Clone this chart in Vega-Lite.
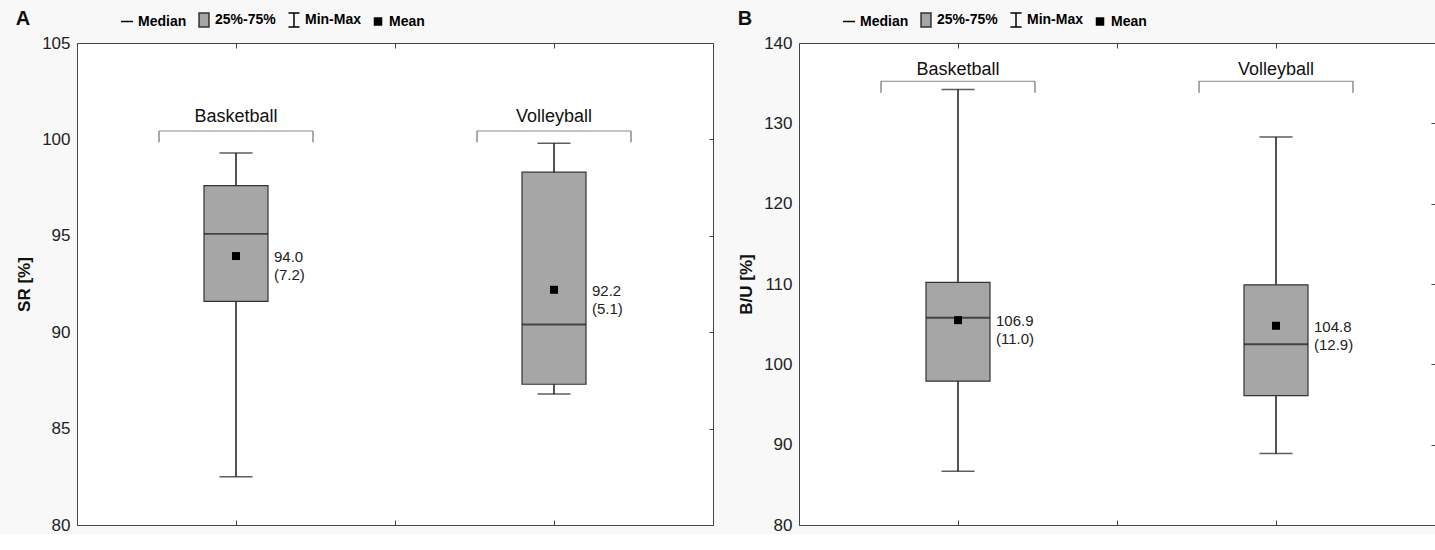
{
"$schema": "https://vega.github.io/schema/vega-lite/v6.json",
"background": "#f8f8f8",
"padding": {"left": 15, "top": 8, "right": 0, "bottom": 0},
"spacing": 23,
"config": {
  "font": "Liberation Sans",
  "view": {"fill": "#ffffff", "stroke": "#444444", "strokeWidth": 1},
  "axis": {"grid": false},
  "legend": {"symbolOpacity": 1}
},
"datasets": {
  "a": [
    {"sport": "Basketball", "min": 82.5, "q1": 91.6, "median": 95.1, "q3": 97.6, "max": 99.3, "mean": 93.95, "label": "94.0\n(7.2)"},
    {"sport": "Volleyball", "min": 86.8, "q1": 87.3, "median": 90.4, "q3": 98.3, "max": 99.8, "mean": 92.2, "label": "92.2\n(5.1)"}
  ],
  "b": [
    {"sport": "Basketball", "min": 86.7, "q1": 97.9, "median": 105.8, "q3": 110.2, "max": 134.2, "mean": 105.5, "label": "106.9\n(11.0)"},
    {"sport": "Volleyball", "min": 88.9, "q1": 96.1, "median": 102.5, "q3": 109.9, "max": 128.3, "mean": 104.8, "label": "104.8\n(12.9)"}
  ],
  "legend": [
    {"item": "Median"}, {"item": "25%-75%"}, {"item": "Min-Max"}, {"item": "Mean"}
  ]
},
"hconcat": [
  {
    "width": 636, "height": 482,
    "view": {"fill": "#ffffff", "stroke": "#444444", "strokeWidth": 1},
    "data": {"name": "a"},
    "title": {"text": "A", "anchor": "start", "frame": "bounds", "fontSize": 20, "fontWeight": "bold", "color": "#111111", "offset": -17},
    "resolve": {"axis": {"x": "independent", "y": "independent"}},
    "layer": [
      {"mark": {"type": "rule", "color": "#1a1a1a", "strokeWidth": 1.5},
       "encoding": {
         "x": {"field": "sport", "type": "nominal", "scale": {"type": "band", "domain": ["Basketball", "Volleyball"], "paddingInner": 0, "paddingOuter": 0},
               "axis": {"orient": "bottom", "labels": false, "domain": false, "tickSize": -5, "tickColor": "#444444", "title": null, "bandPosition": 0.5}},
         "y": {"field": "min", "type": "quantitative", "scale": {"domain": [80, 105], "nice": false, "zero": false},
               "axis": {"orient": "left", "values": [80, 85, 90, 95, 100, 105], "ticks": false, "domain": false, "labelFontSize": 17, "labelPadding": 7, "labelColor": "#222222", "title": "SR [%]", "titleFontSize": 17, "titleFontWeight": "bold", "titlePadding": 8, "titleColor": "#111111"}},
         "y2": {"field": "max"}}},
      {"mark": {"type": "tick", "color": "#1a1a1a", "size": 33, "thickness": 1.5},
       "encoding": {
         "x": {"field": "sport", "type": "nominal", "axis": null},
         "y": {"field": "min", "type": "quantitative", "axis": null}}},
      {"mark": {"type": "tick", "color": "#1a1a1a", "size": 33, "thickness": 1.5},
       "encoding": {
         "x": {"field": "sport", "type": "nominal", "axis": {"orient": "top", "labels": false, "domain": false, "tickSize": -5, "tickColor": "#444444", "title": null, "bandPosition": 0}},
         "y": {"field": "max", "type": "quantitative", "axis": null}}},
      {"mark": {"type": "bar", "width": 64, "fill": "#a6a6a6", "stroke": "#333333", "strokeWidth": 1.2},
       "encoding": {
         "x": {"field": "sport", "type": "nominal", "axis": {"orient": "top", "labels": false, "domain": false, "tickSize": -5, "tickColor": "#444444", "title": null, "bandPosition": 0.5}},
         "y": {"field": "q1", "type": "quantitative", "axis": {"orient": "right", "values": [80, 85, 90, 95, 100, 105], "labels": false, "domain": false, "tickSize": -4, "tickColor": "#444444", "title": null}},
         "y2": {"field": "q3"}}},
      {"mark": {"type": "tick", "color": "#1a1a1a", "size": 64, "thickness": 1.8},
       "encoding": {
         "x": {"field": "sport", "type": "nominal", "axis": {"orient": "bottom", "labels": false, "domain": false, "tickSize": -5, "tickColor": "#444444", "title": null, "bandPosition": 0}},
         "y": {"field": "median", "type": "quantitative", "axis": null}}},
      {"mark": {"type": "point", "shape": "square", "size": 64, "filled": true, "color": "#000000", "opacity": 1},
       "encoding": {
         "x": {"field": "sport", "type": "nominal", "axis": null},
         "y": {"field": "mean", "type": "quantitative", "axis": null}}},
      {"mark": {"type": "text", "align": "left", "baseline": "middle", "dx": 38, "dy": 1, "fontSize": 15, "lineHeight": 18, "lineBreak": "\n", "color": "#222222"},
       "encoding": {
         "x": {"field": "sport", "type": "nominal", "axis": null},
         "y": {"field": "mean", "type": "quantitative", "axis": null},
         "text": {"field": "label"}}},
      {"mark": {"type": "tick", "color": "#555555", "size": 154, "thickness": 1},
       "encoding": {
         "x": {"field": "sport", "type": "nominal", "axis": null},
         "y": {"datum": 100.43, "type": "quantitative", "axis": null}}},
      {"mark": {"type": "rule", "color": "#555555", "strokeWidth": 1, "xOffset": -77},
       "encoding": {
         "x": {"field": "sport", "type": "nominal", "axis": null},
         "y": {"datum": 100.43, "type": "quantitative", "axis": null},
         "y2": {"datum": 99.85}}},
      {"mark": {"type": "rule", "color": "#555555", "strokeWidth": 1, "xOffset": 77},
       "encoding": {
         "x": {"field": "sport", "type": "nominal", "axis": null},
         "y": {"datum": 100.43, "type": "quantitative", "axis": null},
         "y2": {"datum": 99.85}}},
      {"mark": {"type": "text", "fontSize": 18, "baseline": "alphabetic", "align": "center", "color": "#111111"},
       "encoding": {
         "x": {"field": "sport", "type": "nominal", "axis": null},
         "y": {"datum": 100.9, "type": "quantitative", "axis": null},
         "text": {"field": "sport"}}},
      {"data": {"name": "legend"},
       "mark": {"type": "point", "opacity": 0},
       "encoding": {
         "shape": {"field": "item", "type": "nominal",
                   "scale": {"domain": ["Median", "25%-75%", "Min-Max", "Mean"], "range": ["M-0.85,0H0.85", "M-0.71,-1H0.71V1H-0.71Z", "M-0.79,-1H0.79M0,-1V1M-0.79,1H0.79", "M-0.5,-0.5H0.5V0.5H-0.5Z"]},
                   "legend": {"orient": "none", "legendX": 42, "legendY": -31, "direction": "horizontal", "title": null, "labelFont": "Liberation Sans", "labelFontWeight": "bold", "labelFontSize": 14, "labelColor": "#000000", "labelOffset": 3, "columnPadding": 9, "symbolSize": 196, "symbolStrokeWidth": 1.5, "symbolOpacity": 1}},
         "fill": {"field": "item", "type": "nominal",
                  "scale": {"domain": ["Median", "25%-75%", "Min-Max", "Mean"], "range": ["transparent", "#a6a6a6", "transparent", "#000000"]},
                  "legend": {"orient": "none", "legendX": 42, "legendY": -31, "direction": "horizontal", "title": null, "labelFont": "Liberation Sans", "labelFontWeight": "bold", "labelFontSize": 14, "labelColor": "#000000", "labelOffset": 3, "columnPadding": 9, "symbolSize": 196, "symbolStrokeWidth": 1.5, "symbolOpacity": 1}},
         "stroke": {"field": "item", "type": "nominal",
                    "scale": {"domain": ["Median", "25%-75%", "Min-Max", "Mean"], "range": ["#000000", "#333333", "#000000", "#000000"]},
                    "legend": {"orient": "none", "legendX": 42, "legendY": -31, "direction": "horizontal", "title": null, "labelFont": "Liberation Sans", "labelFontWeight": "bold", "labelFontSize": 14, "labelColor": "#000000", "labelOffset": 3, "columnPadding": 9, "symbolSize": 196, "symbolStrokeWidth": 1.5, "symbolOpacity": 1}}}}
    ]
  },
  {
    "width": 636, "height": 482,
    "view": {"fill": "#ffffff", "stroke": "#444444", "strokeWidth": 1},
    "data": {"name": "b"},
    "title": {"text": "B", "anchor": "start", "frame": "bounds", "fontSize": 20, "fontWeight": "bold", "color": "#111111", "offset": -17},
    "resolve": {"axis": {"x": "independent", "y": "independent"}},
    "layer": [
      {"mark": {"type": "rule", "color": "#1a1a1a", "strokeWidth": 1.5},
       "encoding": {
         "x": {"field": "sport", "type": "nominal", "scale": {"type": "band", "domain": ["Basketball", "Volleyball"], "paddingInner": 0, "paddingOuter": 0},
               "axis": {"orient": "bottom", "labels": false, "domain": false, "tickSize": -5, "tickColor": "#444444", "title": null, "bandPosition": 0.5}},
         "y": {"field": "min", "type": "quantitative", "scale": {"domain": [80, 140], "nice": false, "zero": false},
               "axis": {"orient": "left", "values": [80, 90, 100, 110, 120, 130, 140], "ticks": false, "domain": false, "labelFontSize": 17, "labelPadding": 7, "labelColor": "#222222", "title": "B/U [%]", "titleFontSize": 17, "titleFontWeight": "bold", "titlePadding": 8, "titleColor": "#111111"}},
         "y2": {"field": "max"}}},
      {"mark": {"type": "tick", "color": "#1a1a1a", "size": 33, "thickness": 1.5},
       "encoding": {
         "x": {"field": "sport", "type": "nominal", "axis": null},
         "y": {"field": "min", "type": "quantitative", "axis": null}}},
      {"mark": {"type": "tick", "color": "#1a1a1a", "size": 33, "thickness": 1.5},
       "encoding": {
         "x": {"field": "sport", "type": "nominal", "axis": {"orient": "top", "labels": false, "domain": false, "tickSize": -5, "tickColor": "#444444", "title": null, "bandPosition": 0}},
         "y": {"field": "max", "type": "quantitative", "axis": null}}},
      {"mark": {"type": "bar", "width": 64, "fill": "#a6a6a6", "stroke": "#333333", "strokeWidth": 1.2},
       "encoding": {
         "x": {"field": "sport", "type": "nominal", "axis": {"orient": "top", "labels": false, "domain": false, "tickSize": -5, "tickColor": "#444444", "title": null, "bandPosition": 0.5}},
         "y": {"field": "q1", "type": "quantitative", "axis": {"orient": "right", "values": [80, 90, 100, 110, 120, 130, 140], "labels": false, "domain": false, "tickSize": -4, "tickColor": "#444444", "title": null}},
         "y2": {"field": "q3"}}},
      {"mark": {"type": "tick", "color": "#1a1a1a", "size": 64, "thickness": 1.8},
       "encoding": {
         "x": {"field": "sport", "type": "nominal", "axis": {"orient": "bottom", "labels": false, "domain": false, "tickSize": -5, "tickColor": "#444444", "title": null, "bandPosition": 0}},
         "y": {"field": "median", "type": "quantitative", "axis": null}}},
      {"mark": {"type": "point", "shape": "square", "size": 64, "filled": true, "color": "#000000", "opacity": 1},
       "encoding": {
         "x": {"field": "sport", "type": "nominal", "axis": null},
         "y": {"field": "mean", "type": "quantitative", "axis": null}}},
      {"mark": {"type": "text", "align": "left", "baseline": "middle", "dx": 38, "dy": 1, "fontSize": 15, "lineHeight": 18, "lineBreak": "\n", "color": "#222222"},
       "encoding": {
         "x": {"field": "sport", "type": "nominal", "axis": null},
         "y": {"field": "mean", "type": "quantitative", "axis": null},
         "text": {"field": "label"}}},
      {"mark": {"type": "tick", "color": "#555555", "size": 154, "thickness": 1},
       "encoding": {
         "x": {"field": "sport", "type": "nominal", "axis": null},
         "y": {"datum": 135.24, "type": "quantitative", "axis": null}}},
      {"mark": {"type": "rule", "color": "#555555", "strokeWidth": 1, "xOffset": -77},
       "encoding": {
         "x": {"field": "sport", "type": "nominal", "axis": null},
         "y": {"datum": 135.24, "type": "quantitative", "axis": null},
         "y2": {"datum": 133.8}}},
      {"mark": {"type": "rule", "color": "#555555", "strokeWidth": 1, "xOffset": 77},
       "encoding": {
         "x": {"field": "sport", "type": "nominal", "axis": null},
         "y": {"datum": 135.24, "type": "quantitative", "axis": null},
         "y2": {"datum": 133.8}}},
      {"mark": {"type": "text", "fontSize": 18, "baseline": "alphabetic", "align": "center", "color": "#111111"},
       "encoding": {
         "x": {"field": "sport", "type": "nominal", "axis": null},
         "y": {"datum": 136.0, "type": "quantitative", "axis": null},
         "text": {"field": "sport"}}},
      {"data": {"name": "legend"},
       "mark": {"type": "point", "opacity": 0},
       "encoding": {
         "shape": {"field": "item", "type": "nominal",
                   "scale": {"domain": ["Median", "25%-75%", "Min-Max", "Mean"], "range": ["M-0.85,0H0.85", "M-0.71,-1H0.71V1H-0.71Z", "M-0.79,-1H0.79M0,-1V1M-0.79,1H0.79", "M-0.5,-0.5H0.5V0.5H-0.5Z"]},
                   "legend": {"orient": "none", "legendX": 42, "legendY": -31, "direction": "horizontal", "title": null, "labelFont": "Liberation Sans", "labelFontWeight": "bold", "labelFontSize": 14, "labelColor": "#000000", "labelOffset": 3, "columnPadding": 9, "symbolSize": 196, "symbolStrokeWidth": 1.5, "symbolOpacity": 1}},
         "fill": {"field": "item", "type": "nominal",
                  "scale": {"domain": ["Median", "25%-75%", "Min-Max", "Mean"], "range": ["transparent", "#a6a6a6", "transparent", "#000000"]},
                  "legend": {"orient": "none", "legendX": 42, "legendY": -31, "direction": "horizontal", "title": null, "labelFont": "Liberation Sans", "labelFontWeight": "bold", "labelFontSize": 14, "labelColor": "#000000", "labelOffset": 3, "columnPadding": 9, "symbolSize": 196, "symbolStrokeWidth": 1.5, "symbolOpacity": 1}},
         "stroke": {"field": "item", "type": "nominal",
                    "scale": {"domain": ["Median", "25%-75%", "Min-Max", "Mean"], "range": ["#000000", "#333333", "#000000", "#000000"]},
                    "legend": {"orient": "none", "legendX": 42, "legendY": -31, "direction": "horizontal", "title": null, "labelFont": "Liberation Sans", "labelFontWeight": "bold", "labelFontSize": 14, "labelColor": "#000000", "labelOffset": 3, "columnPadding": 9, "symbolSize": 196, "symbolStrokeWidth": 1.5, "symbolOpacity": 1}}}}
    ]
  }
],
"resolve": {"scale": {"shape": "independent", "fill": "independent", "stroke": "independent"}, "legend": {"shape": "independent", "fill": "independent", "stroke": "independent"}}
}
